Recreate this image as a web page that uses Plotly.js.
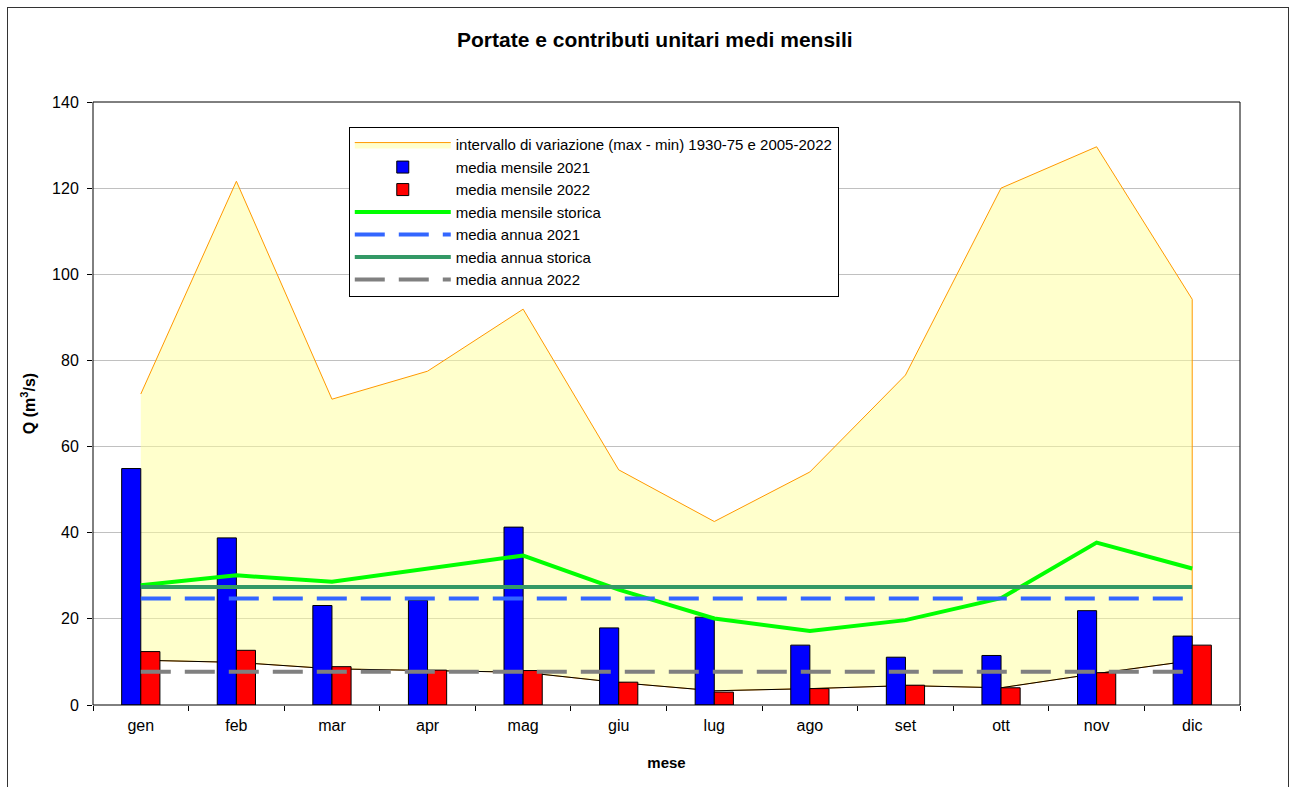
<!DOCTYPE html>
<html>
<head>
<meta charset="utf-8">
<script src="https://cdn.plot.ly/plotly-3.0.1.min.js"></script>
<style>
  body { margin: 0; background: #fff; }
  #chart { width: 1289px; height: 787px; }
  #frame {
    position: absolute; left: 7px; top: 7px; width: 1280px; height: 800px;
    border: 1px solid #333; pointer-events: none;
  }
</style>
</head>
<body>
<div id="chart"></div>
<div id="frame"></div>
<script>
// dati (m3/s)
const mesi = ["gen", "feb", "mar", "apr", "mag", "giu", "lug", "ago", "set", "ott", "nov", "dic"];

const massimo = [72.2, 121.6, 71.0, 77.5, 91.9, 54.6, 42.6, 54.1, 76.6, 120.0, 129.6, 94.2];
const minimo = [10.4, 9.9, 8.4, 8.0, 7.6, 5.2, 3.3, 3.8, 4.5, 4.0, 7.3, 10.3];

const media2021 = [54.9, 38.8, 23.1, 24.3, 41.3, 17.9, 20.4, 13.9, 11.1, 11.5, 21.9, 16.0];
const media2022 = [12.4, 12.7, 8.9, 8.1, 8.0, 5.3, 3.0, 3.8, 4.6, 4.0, 7.5, 13.9];
const mediaStorica = [27.8, 30.1, 28.6, 31.7, 34.7, 26.8, 20.1, 17.2, 19.7, 24.8, 37.7, 31.7];

const mediaAnnua2021 = 24.7;
const mediaAnnuaStorica = 27.4;
const mediaAnnua2022 = 7.7;

const FONT = "Liberation Sans, Arial, sans-serif";

function costante(v) {
  return mesi.map(() => v);
}

// area max-min: poligono chiuso (max in avanti, min all'indietro)
const traceIntervallo = {
  x: mesi.concat(mesi.slice().reverse()),
  y: massimo.concat(minimo.slice().reverse()),
  type: "scatter",
  mode: "lines",
  fill: "toself",
  fillcolor: "rgba(255,255,153,0.5)",
  line: { color: "#FF9900", width: 1 },
  name: "intervallo di variazione (max - min) 1930-75 e 2005-2022",
  hoverinfo: "skip",
  zorder: -2,
};

const traceMinimo = {
  x: mesi,
  y: minimo,
  type: "scatter",
  mode: "lines",
  line: { color: "#000", width: 1 },
  showlegend: false,
  zorder: -1,
};

const traceBar2021 = {
  x: mesi,
  y: media2021,
  type: "bar",
  name: "media mensile 2021",
  marker: { color: "#0000FF", line: { color: "#000", width: 1 } },
  zorder: 0,
};

const traceBar2022 = {
  x: mesi,
  y: media2022,
  type: "bar",
  name: "media mensile 2022",
  marker: { color: "#FF0000", line: { color: "#000", width: 1 } },
  zorder: 0,
};

const traceStorica = {
  x: mesi,
  y: mediaStorica,
  type: "scatter",
  mode: "lines",
  name: "media mensile storica",
  line: { color: "#00FF00", width: 4 },
  zorder: 1,
};

const traceAnnua2021 = {
  x: mesi,
  y: costante(mediaAnnua2021),
  type: "scatter",
  mode: "lines",
  name: "media annua 2021",
  line: { color: "#3366FF", width: 4, dash: "30px,14px" },
  zorder: 1,
};

const traceAnnuaStorica = {
  x: mesi,
  y: costante(mediaAnnuaStorica),
  type: "scatter",
  mode: "lines",
  name: "media annua storica",
  line: { color: "#339966", width: 4 },
  zorder: 1,
};

const traceAnnua2022 = {
  x: mesi,
  y: costante(mediaAnnua2022),
  type: "scatter",
  mode: "lines",
  name: "media annua 2022",
  line: { color: "#808080", width: 4, dash: "30px,14px" },
  zorder: 1,
};

const layout = {
  width: 1289,
  height: 787,
  margin: { l: 93, r: 49, t: 102, b: 82 },
  paper_bgcolor: "white",
  plot_bgcolor: "white",
  font: { family: FONT, size: 16, color: "#000" },
  title: {
    text: "<b>Portate e contributi unitari medi mensili</b>",
    font: { family: FONT, size: 21, color: "#000" },
    x: 0.508,
    xanchor: "center",
    y: 0.95,
    yanchor: "middle",
  },
  barmode: "group",
  bargap: 0.6,
  bargroupgap: 0,
  showlegend: true,
  legend: {
    x: 0.223,
    y: 0.958,
    xanchor: "left",
    yanchor: "top",
    bgcolor: "white",
    bordercolor: "#000",
    borderwidth: 1,
    font: { family: FONT, size: 15, color: "#000" },
    traceorder: "normal",
    itemwidth: 96,
    tracegroupgap: 0,
  },
  xaxis: {
    type: "category",
    range: [-0.5, 11.5],
    showline: true,
    linecolor: "#000",
    linewidth: 1,
    mirror: true,
    layer: "above traces",
    ticks: "outside",
    tickson: "boundaries",
    ticklen: 5,
    tickcolor: "#000",
    ticklabelstandoff: 6,
    showgrid: false,
    tickfont: { family: FONT, size: 16, color: "#000" },
    title: {
      text: "<b>mese</b>",
      font: { family: FONT, size: 15, color: "#000" },
      standoff: 24,
    },
  },
  yaxis: {
    range: [0, 140],
    dtick: 20,
    showline: true,
    linecolor: "#000",
    linewidth: 1,
    mirror: true,
    layer: "above traces",
    ticks: "outside",
    ticklen: 5,
    tickcolor: "#000",
    ticklabelstandoff: 5,
    gridcolor: "#C0C0C0",
    gridwidth: 1,
    zeroline: false,
    tickfont: { family: FONT, size: 16, color: "#000" },
    title: {
      text: "<b>Q (m<sup>3</sup>/s)</b>",
      font: { family: FONT, size: 16, color: "#000" },
      standoff: 12,
    },
  },
  shapes: [
    {
      type: "rect",
      xref: "paper",
      yref: "paper",
      x0: 0,
      x1: 1,
      y0: 0,
      y1: 1,
      line: { color: "#000", width: 1 },
      layer: "above",
    },
  ],
};

Plotly.newPlot(
  "chart",
  [
    traceIntervallo,
    traceBar2021,
    traceBar2022,
    traceStorica,
    traceAnnua2021,
    traceAnnuaStorica,
    traceAnnua2022,
    traceMinimo,
  ],
  layout,
  { displayModeBar: false }
);
</script>
</body>
</html>
